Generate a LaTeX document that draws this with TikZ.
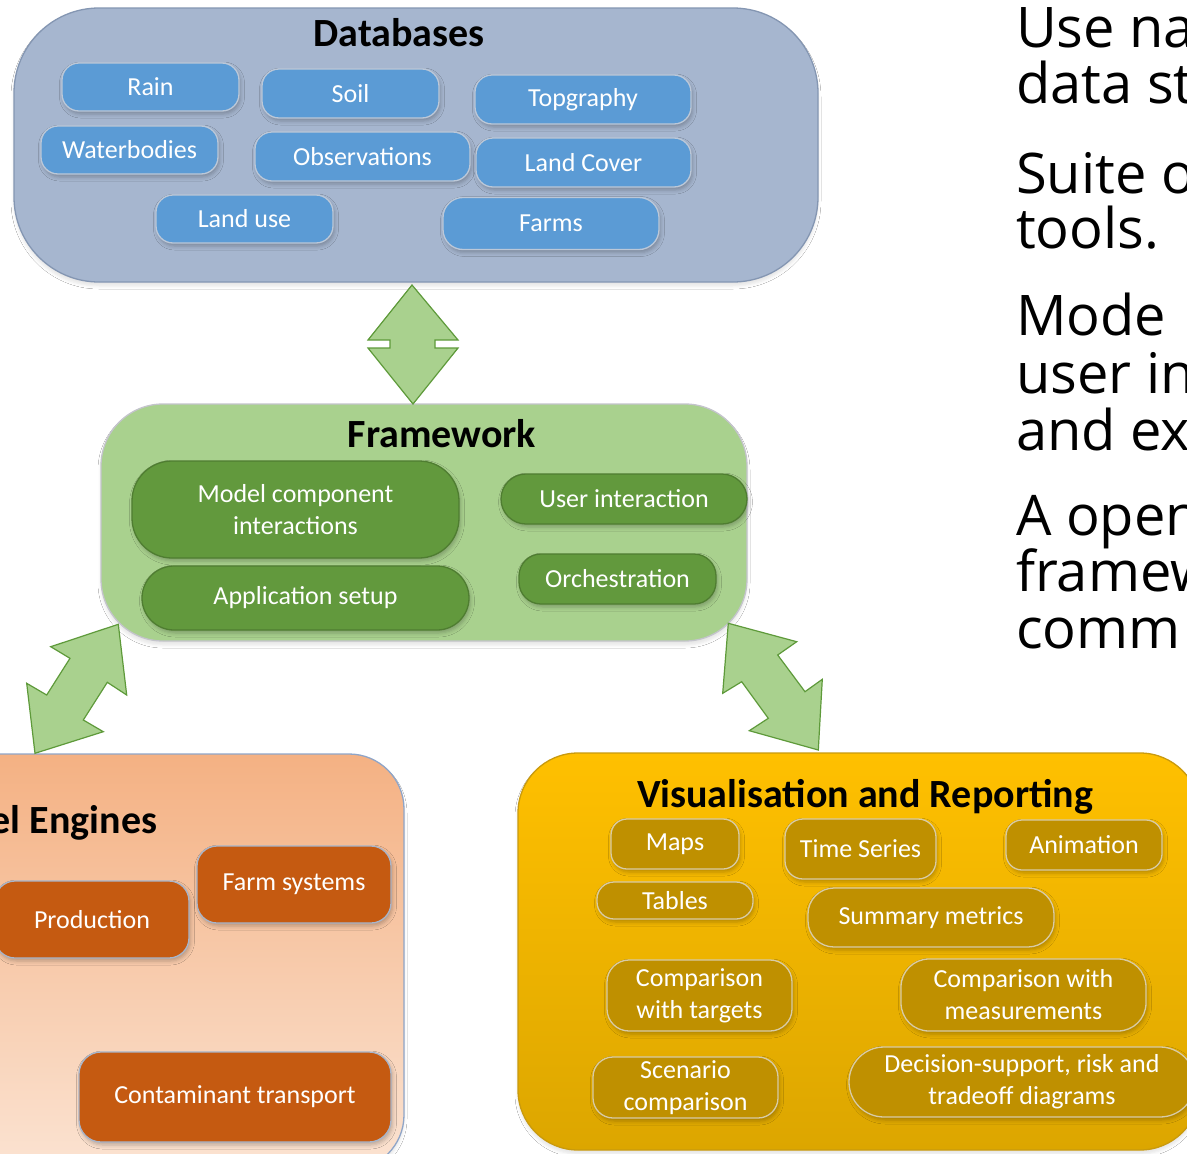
\documentclass[tikz,border=0pt]{standalone}
\usepackage{fontspec}
\setmainfont{Carlito}
\newfontfamily\rfont{Open Sans}
\usetikzlibrary{shadows.blur}
\definecolor{dbFill}{HTML}{A6B6CF}
\definecolor{dbLine}{HTML}{8496B2}
\definecolor{blueFill}{HTML}{5B9BD5}
\definecolor{blueLine}{HTML}{BCC8D8}
\definecolor{fwFill}{HTML}{A9D18E}
\definecolor{fwLine}{HTML}{C4C4CC}
\definecolor{grnFill}{HTML}{62993D}
\definecolor{grnLine}{HTML}{4F7D31}
\definecolor{arrFill}{HTML}{A9D18E}
\definecolor{arrLine}{HTML}{5E9A3A}
\definecolor{meTop}{HTML}{F4B183}
\definecolor{meBot}{HTML}{FBE3D2}
\definecolor{meLine}{HTML}{8FA5C8}
\definecolor{orFill}{HTML}{C55A11}
\definecolor{orLine}{HTML}{A8B5CA}
\definecolor{viTop}{HTML}{FFC000}
\definecolor{viBot}{HTML}{DCA600}
\definecolor{viLine}{HTML}{C99A0E}
\definecolor{gdFill}{HTML}{BF9000}
\definecolor{gdLine}{HTML}{D8CBA6}
\begin{document}
\begin{tikzpicture}[x=1pt,y=-1pt,
  pillbase/.style={rectangle, rounded corners=#1, text=white, align=center,
    inner sep=0pt, line width=1.3pt,
    font=\fontsize{26}{32}\selectfont,
    blur shadow={shadow xshift=1.5pt, shadow yshift=-3pt, shadow opacity=25, shadow blur radius=4pt}},
  pillbase/.default=17,
  bluepill/.style={pillbase=#1, draw=blueLine, fill=blueFill},
  bluepill/.default=17,
  grnpill/.style={pillbase=#1, draw=grnLine, fill=grnFill},
  grnpill/.default=25,
  orpill/.style={pillbase=#1, draw=orLine, fill=orFill},
  orpill/.default=20,
  gdpill/.style={pillbase=#1, draw=gdLine, fill=gdFill},
  gdpill/.default=18,
  container/.style={rectangle, rounded corners=#1, line width=1.3pt, inner sep=0pt,
    blur shadow={shadow xshift=0pt, shadow yshift=-4pt, shadow opacity=10, shadow blur radius=3pt}},
  ttl/.style={font=\fontsize{40}{44}\selectfont\bfseries, text=black, inner sep=0pt},
  bigarrow/.style={fill=arrFill, draw=arrLine, line width=1.2pt, line join=miter},
  rline/.style={font=\rfont\fontsize{56}{56}\selectfont, anchor=base west, inner sep=0pt, text=black}
]
\useasboundingbox (0,0) rectangle (1187,1154);
\clip (0,0) rectangle (1187,1154);
\fill[white] (0,0) rectangle (1187,1154);

% ---------- containers ----------
\node[container=85, draw=dbLine, fill=dbFill, minimum width=804, minimum height=274] (db) at (416,145) {};
\node[container=62, draw=fwLine, fill=fwFill, minimum width=646, minimum height=237] (fw) at (424,522.5) {};
\node[container=55, draw=meLine, top color=meTop, bottom color=meBot, minimum width=464, minimum height=416] (me) at (172,962) {};
\node[container=60, draw=viLine, top color=viTop, bottom color=viBot, minimum width=682, minimum height=397] (vi) at (859,951.5) {};

% ---------- titles ----------
\node[ttl] (dbT) at (399,33) {Databases};
\node[ttl] (fwT) at (442,434) {Framework};
\node[ttl] (meT) at (35,823) {Model Engines};
\node[ttl] (viT) at (865,797) {Visualisation and Reporting};

% ---------- databases ----------
\node[bluepill, minimum width=177, minimum height=48] (rain) at (150.5,87) {Rain};
\node[bluepill, minimum width=177, minimum height=49] (soil) at (350.5,93.5) {Soil};
\node[bluepill, minimum width=216, minimum height=49] (topo) at (583,99.5) {Topgraphy};
\node[bluepill, minimum width=177, minimum height=48] (water) at (129.5,150) {Waterbodies};
\node[bluepill, minimum width=215, minimum height=49] (obs) at (362.5,156.5) {Observations};
\node[bluepill, minimum width=215, minimum height=49] (lcover) at (583.5,162.5) {Land Cover};
\node[bluepill, minimum width=177, minimum height=48] (luse) at (244.5,219) {Land use};
\node[bluepill=20, minimum width=216, minimum height=52] (farms) at (551,223.5) {Farms};

% ---------- framework ----------
\node[grnpill=40, minimum width=327, minimum height=97] (mci) at (295.5,509.5) {Model component\\interactions};
\node[grnpill=32, minimum width=327, minimum height=64] (app) at (305.5,598) {Application setup};
\node[grnpill=25, minimum width=246, minimum height=50] (user) at (624,499) {User interaction};
\node[grnpill=22, minimum width=197, minimum height=50] (orch) at (617.5,579) {Orchestration};

% ---------- model engines ----------
\node[orpill, minimum width=194, minimum height=77] (prod) at (92,919.5) {Production};
\node[orpill, minimum width=194, minimum height=77] (farmsys) at (294,884.5) {Farm systems};
\node[orpill=22, minimum width=312, minimum height=90] (cont) at (235,1097) {Contaminant transport};

% ---------- visualisation ----------
\node[gdpill=16, minimum width=128, minimum height=50] (maps) at (675,844) {Maps};
\node[gdpill=18, minimum width=151, minimum height=60] (tseries) at (860.5,849) {Time Series};
\node[gdpill=16, minimum width=156, minimum height=50] (anim) at (1084,845) {Animation};
\node[gdpill=17, minimum width=156, minimum height=37] (tables) at (675,900.5) {Tables};
\node[gdpill=26, minimum width=246, minimum height=59] (summ) at (931,917.5) {Summary metrics};
\node[gdpill=22, minimum width=185, minimum height=71] (cmpt) at (699.5,995.5) {Comparison\\with targets};
\node[gdpill=28, minimum width=245, minimum height=72] (cmpm) at (1023.5,995) {Comparison with\\measurements};
\node[gdpill=20, minimum width=185, minimum height=61] (scen) at (685.5,1087.5) {Scenario\\comparison};
\node[gdpill=35, minimum width=346, minimum height=70] (deci) at (1022,1082) {Decision-support, risk and\\tradeoff diagrams};

% ---------- block arrows ----------
\draw[bigarrow] (412,285) -- (458,340) -- (435,340) -- (435,348) -- (458,348) -- (413,404)
  -- (368,348) -- (390,348) -- (390,340) -- (368,340) -- cycle;
\draw[bigarrow] (118.3,624.3) -- (126.7,695) -- (107.3,682.3) -- (83.3,720) -- (103.3,731.7)
  -- (35,753.3) -- (26.7,683.3) -- (46.7,695) -- (70,658.3) -- (50.7,646.7) -- cycle;
\draw[bigarrow] (728.3,623.3) -- (796.7,641.7) -- (777.7,655) -- (805,691.7) -- (822.3,679.3)
  -- (818.3,750) -- (749.3,730.7) -- (768.3,718.3) -- (741.7,681.7) -- (722.7,693.3) -- cycle;

% ---------- right-hand text ----------
\node[rline] (t1) at (1016,47) {Use na};
\node[rline] (t2) at (1016,103) {data st};
\node[rline] (t3) at (1016,193) {Suite o};
\node[rline] (t4) at (1016,248) {tools.};
\node[rline] (t5) at (1016,335) {Mode};
\node[rline] (t6) at (1016,393) {user in};
\node[rline] (t7) at (1016,450) {and ex};
\node[rline] (t8) at (1016,535) {A open};
\node[rline] (t9) at (1016,591) {framew};
\node[rline] (t10) at (1016,648) {comm};
\end{tikzpicture}
\end{document}
